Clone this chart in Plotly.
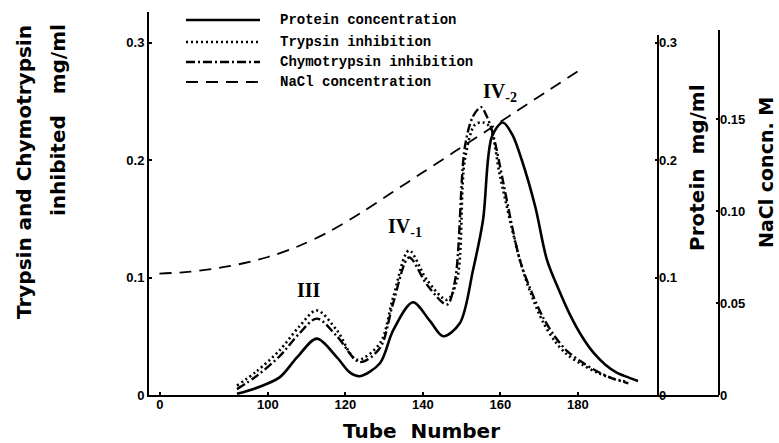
import plotly.graph_objects as go

# ---------------- data ----------------
protein_tube = [92, 97, 103, 107.5, 112.6, 117.8, 121.2, 123.7, 128.9, 132.3, 137.4, 141.8,
                145.2, 149.5, 152.9, 155.5, 157.8, 160.6, 163, 165.5, 169, 172, 175, 178,
                181, 184, 187, 190, 193, 195.5]
protein_val = [0.001, 0.006, 0.015, 0.032, 0.048, 0.032, 0.019, 0.016, 0.027, 0.055, 0.079, 0.063,
               0.050, 0.061, 0.106, 0.149, 0.220, 0.232, 0.222, 0.200, 0.160, 0.115, 0.090, 0.068,
               0.050, 0.036, 0.026, 0.019, 0.015, 0.012]

trypsin_tube = [92, 97, 103, 108, 112.6, 117.8, 122.9, 128.9, 132.3, 136.4, 141, 146.2, 148.8,
                150.8, 153.4, 155.5, 157.3, 159.9, 165, 168, 171, 174, 177, 181, 185, 189, 193]
trypsin_val = [0.008, 0.020, 0.038, 0.058, 0.072, 0.055, 0.030, 0.044, 0.083, 0.123, 0.098, 0.081,
               0.098, 0.200, 0.230, 0.232, 0.228, 0.186, 0.115, 0.085, 0.062, 0.046, 0.035, 0.026,
               0.019, 0.014, 0.011]

chymo_tube = [92, 97, 103, 108, 112.6, 117.8, 123.7, 128.9, 132.3, 136.4, 141, 146.2, 148.3,
              150.8, 152.9, 155, 156.5, 158, 165, 168, 171, 174, 177, 181, 185, 189, 193]
chymo_val = [0.005, 0.016, 0.033, 0.052, 0.065, 0.050, 0.028, 0.040, 0.078, 0.117, 0.094, 0.077,
             0.098, 0.211, 0.237, 0.245, 0.237, 0.223, 0.115, 0.088, 0.066, 0.050, 0.038, 0.028,
             0.020, 0.014, 0.010]

nacl_tube = [72, 80, 90, 100, 108, 116, 124, 132, 140, 148, 156, 164, 172, 180]
nacl_val = [0.066, 0.067, 0.070, 0.075, 0.081, 0.089, 0.099, 0.110, 0.121, 0.132, 0.143, 0.154,
            0.165, 0.176]

x_tick_vals = [72.1, 100, 120, 140, 160, 180]
x_tick_text = ["0", "100", "120", "140", "160", "180"]
inhib_tick_vals = [0, 0.1, 0.2, 0.3]
inhib_tick_text = ["0", "0.1", "0.2", "0.3"]
protein_tick_vals = [0, 0.1, 0.2, 0.3]
protein_tick_text = ["0", "0.1", "0.2", "0.3"]
nacl_tick_vals = [0, 0.05, 0.10, 0.15]
nacl_tick_text = ["0", "0.05", "0.10", "0.15"]

legend_labels = ["Protein concentration", "Trypsin inhibition",
                 "Chymotrypsin inhibition", "NaCl concentration"]
peak_labels = ["III", "IV<sub>-1</sub>", "IV<sub>-2</sub>"]

# ---------------- figure ----------------
W, H = 779, 443
L, R, T, B = 149, 60, 12, 48
PW, PH = W - L - R, H - T - B


def px(x):
    return (x - L) / PW


def py(y):
    return (H - B - y) / PH


fig = go.Figure()
sm = 0.9
fig.add_trace(go.Scatter(x=protein_tube, y=protein_val, yaxis="y2", mode="lines",
                         line=dict(color="black", width=2.6, shape="spline", smoothing=sm)))
fig.add_trace(go.Scatter(x=trypsin_tube, y=trypsin_val, mode="lines",
                         line=dict(color="black", width=2.6, dash="2px,3px", shape="spline", smoothing=sm)))
fig.add_trace(go.Scatter(x=chymo_tube, y=chymo_val, mode="lines",
                         line=dict(color="black", width=2.4, dash="9px,3px,2px,3px", shape="spline", smoothing=sm)))
fig.add_trace(go.Scatter(x=nacl_tube, y=nacl_val, yaxis="y3", mode="lines",
                         line=dict(color="black", width=1.8, dash="12px,8px", shape="spline", smoothing=sm)))

tickfont = dict(family="Liberation Sans, Arial", size=13, color="black", weight="bold")

fig.update_layout(
    width=W, height=H, autosize=False,
    margin=dict(l=L, r=R, t=T, b=B),
    plot_bgcolor="white", paper_bgcolor="white", showlegend=False,
    xaxis=dict(range=[69.3, 216.4], tickvals=x_tick_vals, ticktext=x_tick_text,
               showline=True, linecolor="black", linewidth=2, ticks="inside", ticklen=3,
               tickwidth=2, tickcolor="black", showgrid=False, zeroline=False, tickfont=tickfont,
               ticklabelstandoff=-4),
    yaxis=dict(range=[0, 0.326], tickvals=inhib_tick_vals, ticktext=inhib_tick_text,
               showline=True, linecolor="black", linewidth=2, ticks="inside", ticklen=3,
               tickwidth=2, tickcolor="black", showgrid=False, zeroline=False, tickfont=tickfont),
    yaxis2=dict(range=[0, 0.326], overlaying="y", anchor="free", position=px(658), side="right",
                tickvals=protein_tick_vals, ticktext=protein_tick_text, showline=False,
                ticks="inside", ticklen=3, tickwidth=2, tickcolor="black",
                showgrid=False, zeroline=False, tickfont=tickfont),
    yaxis3=dict(range=[0, PH / 1840], overlaying="y", anchor="free", position=1.0, side="right",
                tickvals=nacl_tick_vals, ticktext=nacl_tick_text, showline=False,
                ticks="inside", ticklen=3, tickwidth=2, tickcolor="black",
                showgrid=False, zeroline=False, tickfont=tickfont),
)

shapes = [
    dict(type="line", xref="paper", yref="paper", x0=px(658), x1=px(658), y0=0, y1=py(35),
         line=dict(color="black", width=2)),
    dict(type="line", xref="paper", yref="paper", x0=1.0, x1=1.0, y0=0, y1=py(30),
         line=dict(color="black", width=2)),
]
legend_y = [20, 42, 62, 82]
legend_dash = ["solid", "2px,3px", "9px,3px,2px,3px", "12px,8px"]
legend_w = [2.6, 2.6, 2.4, 1.8]
for yy, d, w in zip(legend_y, legend_dash, legend_w):
    shapes.append(dict(type="line", xref="paper", yref="paper", x0=px(186), x1=px(260),
                       y0=py(yy), y1=py(yy), line=dict(color="black", width=w, dash=d)))
fig.update_layout(shapes=shapes)

ann = []
for yy, t in zip(legend_y, legend_labels):
    ann.append(dict(x=px(278), y=py(yy), xref="paper", yref="paper", text=t, showarrow=False,
                    xanchor="left", yanchor="middle",
                    font=dict(family="Liberation Mono, Courier New", size=14, color="black", weight="bold")))

title_font = dict(family="DejaVu Sans, Arial", size=20, color="black", weight="bold")


def center_ann(x, y, text, font, angle=0):
    return dict(x=px(x), y=py(y), xref="paper", yref="paper", text=text, showarrow=False,
                xanchor="center", yanchor="middle", textangle=angle, font=font)


ann.append(center_ann(421, 431, "Tube&nbsp; Number", title_font))
ann.append(center_ann(24, 172, "Trypsin and Chymotrypsin", title_font, -90))
ann.append(center_ann(58, 120, "inhibited&nbsp;&nbsp; mg/ml", title_font, -90))
ann.append(center_ann(697, 168, "Protein&nbsp; mg/ml", title_font, -90))
ann.append(center_ann(766, 173, "NaCl concn. M", dict(title_font, size=19), -90))

peak_font = dict(family="Liberation Serif, Times New Roman", size=20, color="black", weight="bold")
for (xx, yy), t in zip([(309, 290), (405, 228), (500, 92)], peak_labels):
    ann.append(center_ann(xx, yy, t, peak_font))
fig.update_layout(annotations=ann)

fig.write_html("out.html")
